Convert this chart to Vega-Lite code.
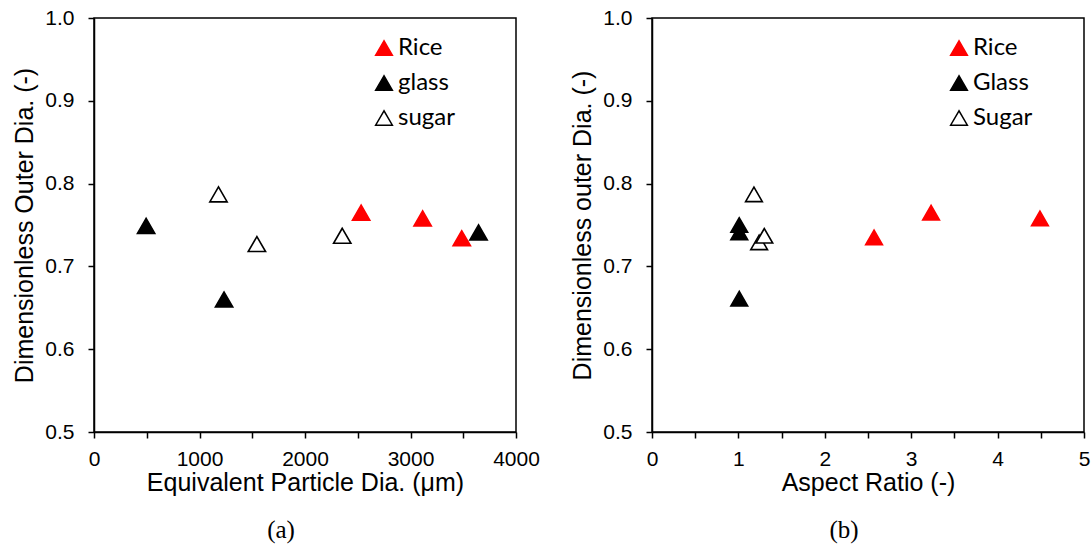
{
  "$schema": "https://vega.github.io/schema/vega-lite/v6.json",
  "padding": {"left": 12, "top": 6, "right": 0, "bottom": 0},
  "background": "white",
  "datasets": {
    "a": [
      {"material": "Rice", "dia": 2532, "outer": 0.765},
      {"material": "Rice", "dia": 3115, "outer": 0.758},
      {"material": "Rice", "dia": 3486, "outer": 0.734},
      {"material": "glass", "dia": 494, "outer": 0.749},
      {"material": "glass", "dia": 1233, "outer": 0.660},
      {"material": "glass", "dia": 3645, "outer": 0.741},
      {"material": "sugar", "dia": 1180, "outer": 0.787},
      {"material": "sugar", "dia": 1544, "outer": 0.727},
      {"material": "sugar", "dia": 2353, "outer": 0.737}
    ],
    "b": [
      {"material": "Rice", "ar": 2.57, "outer": 0.735},
      {"material": "Rice", "ar": 3.23, "outer": 0.765},
      {"material": "Rice", "ar": 4.49, "outer": 0.758},
      {"material": "Glass", "ar": 1.01, "outer": 0.750},
      {"material": "Glass", "ar": 1.01, "outer": 0.741},
      {"material": "Glass", "ar": 1.01, "outer": 0.661},
      {"material": "Sugar", "ar": 1.18, "outer": 0.787},
      {"material": "Sugar", "ar": 1.24, "outer": 0.729},
      {"material": "Sugar", "ar": 1.30, "outer": 0.737}
    ]
  },
  "config": {
    "view": {"stroke": "black", "strokeWidth": 1.5},
    "axis": {
      "grid": false,
      "domainColor": "black",
      "domainWidth": 1.5,
      "tickColor": "black",
      "tickWidth": 1.5,
      "tickSize": 6,
      "labelColor": "black",
      "titleColor": "black",
      "labelFont": "Liberation Sans",
      "titleFont": "Liberation Sans",
      "labelFontSize": 21,
      "titleFontSize": 25,
      "titleFontWeight": "normal",
      "labelFlush": false,
      "labelOverlap": false
    },
    "axisX": {"labelPadding": 10, "titlePadding": 1},
    "axisY": {"labelPadding": 14, "titlePadding": 7},
    "legend": {
      "orient": "none",
      "title": null,
      "symbolType": "triangle-up",
      "symbolSize": 280,
      "symbolStrokeWidth": 1.5,
      "labelFont": "Lato",
      "labelFontSize": 24,
      "labelColor": "black",
      "labelOffset": 2,
      "rowPadding": 11,
      "padding": 0
    },
    "title": {
      "orient": "bottom",
      "frame": "group",
      "anchor": "middle",
      "font": "Liberation Serif",
      "fontSize": 25,
      "fontWeight": "normal",
      "color": "black",
      "offset": 23,
      "dx": -24
    }
  },
  "spacing": 29,
  "resolve": {
    "scale": {"fill": "independent", "stroke": "independent"},
    "legend": {"fill": "independent", "stroke": "independent"}
  },
  "hconcat": [
    {
      "title": "(a)",
      "width": 422,
      "height": 414,
      "data": {"name": "a"},
      "mark": {"type": "point", "shape": "triangle-up", "filled": true, "size": 300, "strokeWidth": 1.6, "opacity": 1},
      "encoding": {
        "x": {
          "field": "dia", "type": "quantitative",
          "scale": {"domain": [0, 4000], "nice": false},
          "axis": {
            "title": "Equivalent Particle Dia. (μm)",
            "values": [0, 500, 1000, 1500, 2000, 2500, 3000, 3500, 4000],
            "format": "d",
            "labelExpr": "datum.value % 1000 === 0 ? datum.label : ''"
          }
        },
        "y": {
          "field": "outer", "type": "quantitative",
          "scale": {"domain": [0.5, 1.0], "nice": false, "zero": false},
          "axis": {
            "title": "Dimensionless Outer Dia. (-)",
            "values": [0.5, 0.6, 0.7, 0.8, 0.9, 1.0],
            "format": ".1f"
          }
        },
        "fill": {
          "field": "material", "type": "nominal",
          "scale": {"domain": ["Rice", "glass", "sugar"], "range": ["#ff0000", "#000000", "#ffffff"]},
          "legend": {"legendX": 278, "legendY": 18}
        },
        "stroke": {
          "field": "material", "type": "nominal",
          "scale": {"domain": ["Rice", "glass", "sugar"], "range": ["#ff0000", "#000000", "#000000"]},
          "legend": {"legendX": 278, "legendY": 18}
        }
      }
    },
    {
      "title": "(b)",
      "width": 432,
      "height": 414,
      "data": {"name": "b"},
      "mark": {"type": "point", "shape": "triangle-up", "filled": true, "size": 280, "strokeWidth": 1.6, "opacity": 1},
      "encoding": {
        "x": {
          "field": "ar", "type": "quantitative",
          "scale": {"domain": [0, 5], "nice": false},
          "axis": {
            "title": "Aspect Ratio (-)",
            "values": [0, 0.5, 1, 1.5, 2, 2.5, 3, 3.5, 4, 4.5, 5],
            "labelExpr": "datum.value % 1 === 0 ? format(datum.value, 'd') : ''"
          }
        },
        "y": {
          "field": "outer", "type": "quantitative",
          "scale": {"domain": [0.5, 1.0], "nice": false, "zero": false},
          "axis": {
            "title": "Dimensionless outer Dia. (-)",
            "values": [0.5, 0.6, 0.7, 0.8, 0.9, 1.0],
            "format": ".1f"
          }
        },
        "fill": {
          "field": "material", "type": "nominal",
          "scale": {"domain": ["Rice", "Glass", "Sugar"], "range": ["#ff0000", "#000000", "#ffffff"]},
          "legend": {"legendX": 295, "legendY": 18}
        },
        "stroke": {
          "field": "material", "type": "nominal",
          "scale": {"domain": ["Rice", "Glass", "Sugar"], "range": ["#ff0000", "#000000", "#000000"]},
          "legend": {"legendX": 295, "legendY": 18}
        }
      }
    }
  ]
}
